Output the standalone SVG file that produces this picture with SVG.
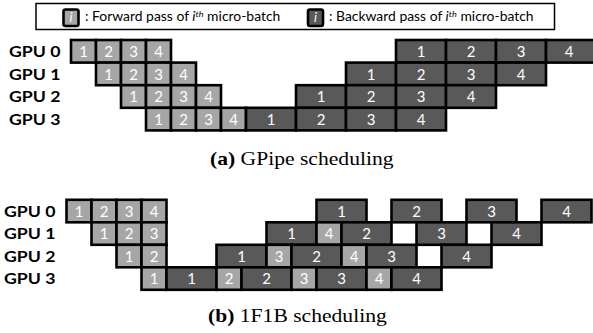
<svg xmlns="http://www.w3.org/2000/svg" width="593" height="333" viewBox="0 0 593 333">
<style>
.f{fill:#a6a6a6;stroke:#000;stroke-width:2.6}
.b{fill:#595959;stroke:#000;stroke-width:2.6}
.n{font-family:Lato,"Liberation Sans",sans-serif;font-size:15px;fill:#fff;text-anchor:middle}
.gpu{font-family:Lato,"Liberation Sans",sans-serif;font-size:15px;font-weight:bold;fill:#000}
.cap{font-family:"Liberation Serif","Times New Roman",serif;font-size:18px;fill:#000}
.leg{font-family:Lato,"Liberation Sans",sans-serif;font-size:13px;fill:#000}
.ico{font-family:Lato,"Liberation Sans",sans-serif;font-size:13px;font-style:italic;fill:#fff;text-anchor:middle}
</style>
<g id="legend">
<rect x="36" y="3.5" width="518.5" height="26" fill="#fff" stroke="#000" stroke-width="1.5"/>
<rect x="63.5" y="9.5" width="15" height="16.5" rx="2" class="f" stroke-width="2"/>
<text x="71" y="22" class="ico">i</text>
<text class="leg" transform="translate(85,21) scale(1.07,1)">: Forward pass of <tspan font-style="italic">i</tspan><tspan font-style="italic" font-size="8.5" dy="-4.5">th</tspan><tspan dy="4.5"> micro-batch</tspan></text>
<rect x="308" y="9.5" width="15" height="16.5" rx="2" class="b" stroke-width="2"/>
<text x="315.5" y="22" class="ico">i</text>
<text class="leg" transform="translate(329,21) scale(1.07,1)">: Backward pass of <tspan font-style="italic">i</tspan><tspan font-style="italic" font-size="8.5" dy="-4.5">th</tspan><tspan dy="4.5"> micro-batch</tspan></text>
</g>
<g id="gpipe-labels">
<text class="gpu" transform="translate(9,57) scale(1.18,1)">GPU 0</text>
<text class="gpu" transform="translate(9,79.6) scale(1.18,1)">GPU 1</text>
<text class="gpu" transform="translate(9,102.2) scale(1.18,1)">GPU 2</text>
<text class="gpu" transform="translate(9,124.8) scale(1.18,1)">GPU 3</text>
</g>
<g id="gpipe-gpu0">
<rect class="f" x="71" y="40" width="25" height="22.6"/><text class="n" x="83.5" y="57">1</text>
<rect class="f" x="96" y="40" width="25" height="22.6"/><text class="n" x="108.5" y="57">2</text>
<rect class="f" x="121" y="40" width="25" height="22.6"/><text class="n" x="133.5" y="57">3</text>
<rect class="f" x="146" y="40" width="25" height="22.6"/><text class="n" x="158.5" y="57">4</text>
<rect class="b" x="396" y="40" width="50" height="22.6"/><text class="n" x="421" y="57">1</text>
<rect class="b" x="446" y="40" width="50" height="22.6"/><text class="n" x="471" y="57">2</text>
<rect class="b" x="496" y="40" width="50" height="22.6"/><text class="n" x="521" y="57">3</text>
<rect class="b" x="546" y="40" width="50" height="22.6"/><text class="n" x="569" y="57">4</text>
</g>
<g id="gpipe-gpu1">
<rect class="f" x="96" y="62.6" width="25" height="22.6"/><text class="n" x="108.5" y="79.6">1</text>
<rect class="f" x="121" y="62.6" width="25" height="22.6"/><text class="n" x="133.5" y="79.6">2</text>
<rect class="f" x="146" y="62.6" width="25" height="22.6"/><text class="n" x="158.5" y="79.6">3</text>
<rect class="f" x="171" y="62.6" width="25" height="22.6"/><text class="n" x="183.5" y="79.6">4</text>
<rect class="b" x="346" y="62.6" width="50" height="22.6"/><text class="n" x="371" y="79.6">1</text>
<rect class="b" x="396" y="62.6" width="50" height="22.6"/><text class="n" x="421" y="79.6">2</text>
<rect class="b" x="446" y="62.6" width="50" height="22.6"/><text class="n" x="471" y="79.6">3</text>
<rect class="b" x="496" y="62.6" width="50" height="22.6"/><text class="n" x="521" y="79.6">4</text>
</g>
<g id="gpipe-gpu2">
<rect class="f" x="121" y="85.2" width="25" height="22.6"/><text class="n" x="133.5" y="102.2">1</text>
<rect class="f" x="146" y="85.2" width="25" height="22.6"/><text class="n" x="158.5" y="102.2">2</text>
<rect class="f" x="171" y="85.2" width="25" height="22.6"/><text class="n" x="183.5" y="102.2">3</text>
<rect class="f" x="196" y="85.2" width="25" height="22.6"/><text class="n" x="208.5" y="102.2">4</text>
<rect class="b" x="296" y="85.2" width="50" height="22.6"/><text class="n" x="321" y="102.2">1</text>
<rect class="b" x="346" y="85.2" width="50" height="22.6"/><text class="n" x="371" y="102.2">2</text>
<rect class="b" x="396" y="85.2" width="50" height="22.6"/><text class="n" x="421" y="102.2">3</text>
<rect class="b" x="446" y="85.2" width="50" height="22.6"/><text class="n" x="471" y="102.2">4</text>
</g>
<g id="gpipe-gpu3">
<rect class="f" x="146" y="107.8" width="25" height="22.6"/><text class="n" x="158.5" y="124.8">1</text>
<rect class="f" x="171" y="107.8" width="25" height="22.6"/><text class="n" x="183.5" y="124.8">2</text>
<rect class="f" x="196" y="107.8" width="25" height="22.6"/><text class="n" x="208.5" y="124.8">3</text>
<rect class="f" x="221" y="107.8" width="25" height="22.6"/><text class="n" x="233.5" y="124.8">4</text>
<rect class="b" x="246" y="107.8" width="50" height="22.6"/><text class="n" x="271" y="124.8">1</text>
<rect class="b" x="296" y="107.8" width="50" height="22.6"/><text class="n" x="321" y="124.8">2</text>
<rect class="b" x="346" y="107.8" width="50" height="22.6"/><text class="n" x="371" y="124.8">3</text>
<rect class="b" x="396" y="107.8" width="50" height="22.6"/><text class="n" x="421" y="124.8">4</text>
</g>
<g id="caption-a">
<text class="cap" transform="translate(210,165) scale(1.2,1)"><tspan font-weight="bold">(a)</tspan> GPipe scheduling</text>
</g>
<g id="f1b-labels">
<text class="gpu" transform="translate(4,216.8) scale(1.18,1)">GPU 0</text>
<text class="gpu" transform="translate(4,239.3) scale(1.18,1)">GPU 1</text>
<text class="gpu" transform="translate(4,261.8) scale(1.18,1)">GPU 2</text>
<text class="gpu" transform="translate(4,284.3) scale(1.18,1)">GPU 3</text>
</g>
<g id="f1b-gpu0">
<rect class="f" x="66.5" y="199.8" width="25" height="22.5"/><text class="n" x="79" y="216.8">1</text>
<rect class="f" x="91.5" y="199.8" width="25" height="22.5"/><text class="n" x="104" y="216.8">2</text>
<rect class="f" x="116.5" y="199.8" width="25" height="22.5"/><text class="n" x="129" y="216.8">3</text>
<rect class="f" x="141.5" y="199.8" width="25" height="22.5"/><text class="n" x="154" y="216.8">4</text>
<rect class="b" x="316.5" y="199.8" width="50" height="22.5"/><text class="n" x="341.5" y="216.8">1</text>
<rect class="b" x="391.5" y="199.8" width="50" height="22.5"/><text class="n" x="416.5" y="216.8">2</text>
<rect class="b" x="466.5" y="199.8" width="50" height="22.5"/><text class="n" x="491.5" y="216.8">3</text>
<rect class="b" x="541.5" y="199.8" width="50" height="22.5"/><text class="n" x="566.5" y="216.8">4</text>
</g>
<g id="f1b-gpu1">
<rect class="f" x="91.5" y="222.3" width="25" height="22.5"/><text class="n" x="104" y="239.3">1</text>
<rect class="f" x="116.5" y="222.3" width="25" height="22.5"/><text class="n" x="129" y="239.3">2</text>
<rect class="f" x="141.5" y="222.3" width="25" height="22.5"/><text class="n" x="154" y="239.3">3</text>
<rect class="b" x="266.5" y="222.3" width="50" height="22.5"/><text class="n" x="291.5" y="239.3">1</text>
<rect class="f" x="316.5" y="222.3" width="25" height="22.5"/><text class="n" x="329" y="239.3">4</text>
<rect class="b" x="341.5" y="222.3" width="50" height="22.5"/><text class="n" x="366.5" y="239.3">2</text>
<rect class="b" x="416.5" y="222.3" width="50" height="22.5"/><text class="n" x="441.5" y="239.3">3</text>
<rect class="b" x="491.5" y="222.3" width="50" height="22.5"/><text class="n" x="516.5" y="239.3">4</text>
</g>
<g id="f1b-gpu2">
<rect class="f" x="116.5" y="244.8" width="25" height="22.5"/><text class="n" x="129" y="261.8">1</text>
<rect class="f" x="141.5" y="244.8" width="25" height="22.5"/><text class="n" x="154" y="261.8">2</text>
<rect class="b" x="216.5" y="244.8" width="50" height="22.5"/><text class="n" x="241.5" y="261.8">1</text>
<rect class="f" x="266.5" y="244.8" width="25" height="22.5"/><text class="n" x="279" y="261.8">3</text>
<rect class="b" x="291.5" y="244.8" width="50" height="22.5"/><text class="n" x="316.5" y="261.8">2</text>
<rect class="f" x="341.5" y="244.8" width="25" height="22.5"/><text class="n" x="354" y="261.8">4</text>
<rect class="b" x="366.5" y="244.8" width="50" height="22.5"/><text class="n" x="391.5" y="261.8">3</text>
<rect class="b" x="441.5" y="244.8" width="50" height="22.5"/><text class="n" x="466.5" y="261.8">4</text>
</g>
<g id="f1b-gpu3">
<rect class="f" x="141.5" y="267.3" width="25" height="22.5"/><text class="n" x="154" y="284.3">1</text>
<rect class="b" x="166.5" y="267.3" width="50" height="22.5"/><text class="n" x="191.5" y="284.3">1</text>
<rect class="f" x="216.5" y="267.3" width="25" height="22.5"/><text class="n" x="229" y="284.3">2</text>
<rect class="b" x="241.5" y="267.3" width="50" height="22.5"/><text class="n" x="266.5" y="284.3">2</text>
<rect class="f" x="291.5" y="267.3" width="25" height="22.5"/><text class="n" x="304" y="284.3">3</text>
<rect class="b" x="316.5" y="267.3" width="50" height="22.5"/><text class="n" x="341.5" y="284.3">3</text>
<rect class="f" x="366.5" y="267.3" width="25" height="22.5"/><text class="n" x="379" y="284.3">4</text>
<rect class="b" x="391.5" y="267.3" width="50" height="22.5"/><text class="n" x="416.5" y="284.3">4</text>
</g>
<g id="caption-b">
<text class="cap" transform="translate(208,321.5) scale(1.2,1)"><tspan font-weight="bold">(b)</tspan> 1F1B scheduling</text>
</g>
</svg>
